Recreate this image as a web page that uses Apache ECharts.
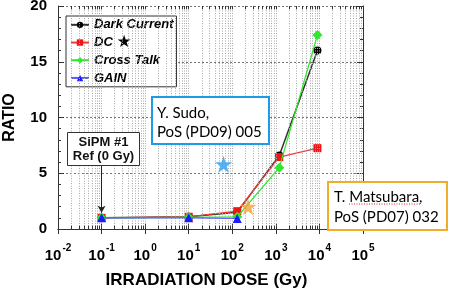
<!DOCTYPE html>
<html><head><meta charset="utf-8">
<script src="https://cdn.jsdelivr.net/npm/echarts@6/dist/echarts.min.js"></script>
<style>html,body{margin:0;padding:0;background:#fff}#c{width:458px;height:292px}</style>
</head><body><div id="c"></div>
<script>
// ---- data ----
const doses = [0.1, 10, 130, 1200, 9000];
const darkCurrent = [1.0, 1.1, 1.5, 6.6, 16.0];
const dcRatio = [1.0, 1.1, 1.6, 6.45, 7.25];
const crossTalk = [1.0, 1.05, 1.1, 5.5, 17.4];
const gainDoses = [0.1, 10, 130];
const gainRatio = [1.0, 1.0, 0.95];
const sudoStar = [[63, 5.8]];
const matsubaraStar = [[230, 2.0]];
const xExponents = [-2, -1, 0, 1, 2, 3, 4, 5];
const yTicks = [0, 5, 10, 15, 20];
const seriesNames = ['Dark Current', 'DC', 'Cross Talk', 'GAIN'];
const arrowFrom = [0.1, 5.7];
const arrowTo = [0.1, 1.45];

// minor log grid values (k * 10^e)
const gridVals = [];
for (let e = xExponents[0]; e < xExponents[xExponents.length - 1]; e++) {
  for (let k = 1; k <= 9; k++) {
    if (k === 1 && e === xExponents[0]) continue;
    gridVals.push(+(k * Math.pow(10, e)).toPrecision(3));
  }
}
const zip = (xs, ys) => xs.map((x, i) => [x, ys[i]]);
const FONT = 'Liberation Sans';
const STAR = 'path://M50,0 L61.2,34.5 L97.6,34.5 L68.2,55.9 L79.4,90.5 L50,69.1 L20.6,90.5 L31.8,55.9 L2.4,34.5 L38.8,34.5 Z';

const chart = echarts.init(document.getElementById('c'), null, {renderer: 'canvas'});
const frame = {show: true, lineStyle: {color: '#333', width: 1}};
const yMin = yTicks[0], yMax = yTicks[yTicks.length - 1];

const gridLines = gridVals.map(v => [
  {coord: [v, yMin], symbol: 'none', lineStyle: {type: [1, 1.5], color: '#a8a8a8', width: 1}},
  {coord: [v, yMax], symbol: 'none'}]);
const bottomTicks = gridVals.map(v => [
  {coord: [v, yMin], symbol: 'none', lineStyle: {type: 'solid', color: '#333', width: 1}},
  {coord: [v, yMin + 0.3], symbol: 'none'}]);
const topTicks = gridVals.map(v => [
  {coord: [v, yMax], symbol: 'none', lineStyle: {type: 'solid', color: '#333', width: 1}},
  {coord: [v, yMax - 0.3], symbol: 'none'}]);

chart.setOption({
  animation: false,
  backgroundColor: '#fff',
  grid: {left: 58, right: 95, top: 6, bottom: 63, containLabel: false, outerBoundsMode: 'none'},
  legend: {
    orient: 'vertical', left: 66, top: 16,
    data: seriesNames,
    backgroundColor: '#fff', borderColor: '#333', borderWidth: 1,
    padding: [0, 3, 0, 4], itemGap: 0, itemWidth: 18, itemHeight: 8,
    textStyle: {fontFamily: FONT, fontWeight: 'bold', fontStyle: 'italic', fontSize: 13, color: '#000', lineHeight: 17.7,
      rich: {t: {fontFamily: FONT, fontWeight: 'bold', fontStyle: 'italic', fontSize: 13, color: '#000', lineHeight: 17.7},
             s: {fontFamily: 'DejaVu Sans', fontSize: 17, color: '#000', lineHeight: 17.7}}},
    formatter: n => n === 'DC' ? '{t|DC }{s|★}' : n
  },
  xAxis: [{
    type: 'log', logBase: 10, min: Math.pow(10, xExponents[0]), max: Math.pow(10, xExponents[xExponents.length - 1]),
    position: 'bottom', axisLine: frame,
    axisTick: {show: true, inside: true, length: 6, lineStyle: {color: '#333'}},
    splitLine: {show: false},
    axisLabel: {
      margin: 14,
      formatter: v => '{b|10}{s|' + Math.round(Math.log10(v)) + '}',
      rich: {
        b: {fontFamily: FONT, fontWeight: 'bold', fontSize: 15, color: '#000'},
        s: {fontFamily: FONT, fontWeight: 'bold', fontSize: 10, color: '#000', padding: [0, 0, 16, 1]}
      }
    },
    name: 'IRRADIATION DOSE (Gy)', nameLocation: 'middle', nameGap: 43,
    nameTextStyle: {fontFamily: FONT, fontWeight: 'bold', fontSize: 17, color: '#000', padding: [0, 8, 0, 0]}
  }, {
    type: 'log', logBase: 10, min: Math.pow(10, xExponents[0]), max: Math.pow(10, xExponents[xExponents.length - 1]),
    position: 'top', axisLine: frame,
    axisTick: {show: true, inside: true, length: 5, lineStyle: {color: '#333'}},
    axisLabel: {show: false}, splitLine: {show: false}
  }],
  yAxis: [{
    type: 'value', min: yMin, max: yMax, interval: 5, position: 'left', axisLine: frame,
    axisTick: {show: true, inside: true, length: 6, lineStyle: {color: '#333'}},
    minorTick: {show: true, splitNumber: 5, length: 3, lineStyle: {color: '#333'}},
    splitLine: {show: true, lineStyle: {type: [2, 2], color: '#777', width: 1}},
    axisLabel: {fontFamily: FONT, fontWeight: 'bold', fontSize: 15, color: '#000', margin: 11},
    name: 'RATIO', nameLocation: 'middle', nameGap: 40, nameRotate: 90,
    nameTextStyle: {fontFamily: FONT, fontWeight: 'bold', fontSize: 16, color: '#000'}
  }, {
    type: 'value', min: yMin, max: yMax, interval: 5, position: 'right', axisLine: frame,
    axisTick: {show: true, inside: true, length: 6, lineStyle: {color: '#333'}},
    minorTick: {show: true, splitNumber: 5, length: 3, lineStyle: {color: '#333'}},
    splitLine: {show: false}, axisLabel: {show: false}
  }],
  series: [
    {
      name: '_grid', type: 'line', data: [], z: 1, silent: true,
      markLine: {
        silent: true, symbol: ['none', 'none'], label: {show: false},
        lineStyle: {type: 'solid', color: '#333', width: 1},
        data: gridLines.concat(bottomTicks, topTicks)
          .concat([[{coord: arrowFrom, symbol: 'none', lineStyle: {type: 'solid', color: '#222', width: 1}},
                    {coord: arrowTo, symbol: 'arrow', symbolSize: [6, 7]}]])
      }
    },
    {
      name: 'Dark Current', type: 'line', data: zip(doses, darkCurrent), z: 3,
      symbol: 'circle', symbolSize: 8, itemStyle: {color: '#000'}, lineStyle: {color: '#333', width: 1.5}
    },
    {
      name: 'DC', type: 'line', data: zip(doses, dcRatio), z: 4,
      symbol: 'rect', symbolSize: 8, itemStyle: {color: '#f01414'}, lineStyle: {color: '#f03a3a', width: 1.2}
    },
    {
      name: 'Cross Talk', type: 'line', data: zip(doses, crossTalk), z: 5,
      symbol: 'diamond', symbolSize: 10, itemStyle: {color: '#2ee82e'}, lineStyle: {color: '#2ee82e', width: 1.2}
    },
    {
      name: 'GAIN', type: 'line', data: zip(gainDoses, gainRatio), z: 6,
      symbol: 'triangle', symbolSize: 9, itemStyle: {color: '#1a1aff'}, lineStyle: {color: '#5a5aff', width: 1.2}
    },
    {
      name: 'Sudo', type: 'scatter', data: sudoStar, z: 8, symbol: STAR, symbolSize: 17,
      itemStyle: {color: '#2b9ff0'}
    },
    {
      name: 'Matsubara', type: 'scatter', data: matsubaraStar, z: 8, symbol: STAR, symbolSize: 17,
      itemStyle: {color: '#f6a035'}
    }
  ],
  graphic: [
    {type: 'rect', shape: {x: 67.5, y: 132.5, width: 72, height: 33}, style: {fill: '#fff', stroke: '#333', lineWidth: 1}, z: 20},
    {type: 'text', x: 103.5, y: 135, style: {text: 'SiPM #1\nRef (0 Gy)', align: 'center', verticalAlign: 'top',
      fontFamily: FONT, fontWeight: 'bold', fontSize: 13, lineHeight: 14, fill: '#111'}, z: 21},
    {type: 'rect', shape: {x: 152, y: 97, width: 117, height: 47}, style: {fill: '#fff', stroke: '#1e9be6', lineWidth: 2}, z: 20},
    {type: 'text', x: 157, y: 103.5, style: {text: 'Y. Sudo,\nPoS (PD09) 005', align: 'left', verticalAlign: 'top',
      fontFamily: 'Lato', fontSize: 15, lineHeight: 19, fill: '#000'}, z: 21},
    {type: 'rect', shape: {x: 328, y: 182, width: 119, height: 48}, style: {fill: '#fff', stroke: '#f0ad2a', lineWidth: 2}, z: 20},
    {type: 'text', x: 334, y: 187, style: {text: 'T. Matsubara,\nPoS (PD07) 032', align: 'left', verticalAlign: 'top',
      fontFamily: 'Lato', fontSize: 15, lineHeight: 20, fill: '#000'}, z: 21},
    {type: 'line', shape: {x1: 349, y1: 204, x2: 421, y2: 204}, style: {stroke: '#e02020', lineWidth: 1, lineDash: [1, 1.5]}, z: 22}
  ]
});
</script></body></html>
